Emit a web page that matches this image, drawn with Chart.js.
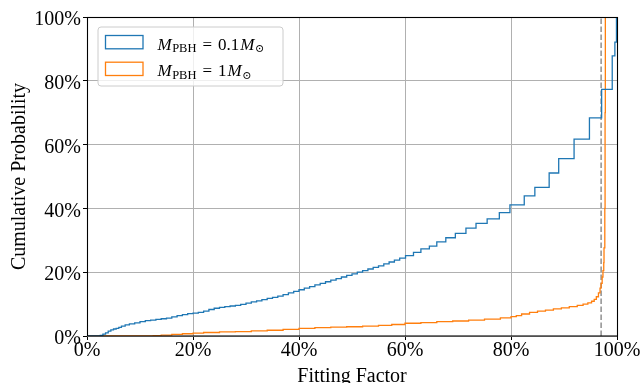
<!DOCTYPE html>
<html>
<head>
<meta charset="utf-8">
<script src="https://cdn.jsdelivr.net/npm/chart.js@4.4.0/dist/chart.umd.min.js"></script>
<style>
  html, body { margin: 0; padding: 0; background: #fff; }
  #wrap { width: 642px; height: 383px; }
</style>
</head>
<body>
<div id="wrap"><canvas id="cdf"></canvas></div>
<script>
// fitting factor (%) where the cumulative curve steps, and the level after the step
const blueX = [0, 2.5, 3.0, 3.5, 4.0, 4.5, 5.0, 5.5, 6.0, 6.5, 7.2, 8.0, 9.0, 10.0, 11.0, 12.0, 13.0, 14.0, 15.0, 16.0,
  17.0, 18.0, 19.0, 20.0, 21.0, 22.0, 23.0, 24.0, 25.0, 26.0, 27.0, 28.0, 29.0, 30.0, 31.0, 32.0, 33.0, 34.0, 35.0, 36.0,
  37.0, 38.0, 39.0, 40.0, 41.0, 42.0, 43.0, 44.0, 45.0, 46.0, 47.0, 48.0, 49.0, 50.0, 51.0, 52.0, 53.0, 54.0, 55.0,
  56.0, 57.0, 58.0, 59.0, 60.1, 61.6, 63.0, 64.6, 66.0, 67.7, 69.5, 71.5, 73.4,
  75.5, 77.8, 79.8, 82.5, 84.5, 87.2, 89.0, 91.9, 94.8, 97.1, 99.1, 99.6, 99.9];
const blueY = [0, 0.2, 0.6, 1.0, 1.5, 1.9, 2.2, 2.4, 2.7, 3.1, 3.5, 3.8, 4.1, 4.5, 4.8, 5.0, 5.2, 5.4, 5.6, 6.0,
  6.4, 6.7, 7.0, 7.2, 7.4, 7.8, 8.3, 8.7, 9.0, 9.2, 9.4, 9.6, 9.9, 10.3, 10.7, 11.0, 11.4, 11.8, 12.1, 12.5,
  13.0, 13.5, 14.0, 14.5, 15.0, 15.5, 16.0, 16.5, 17.0, 17.5, 18.0, 18.5, 19.0, 19.5, 20.0, 20.5, 21.0, 21.5, 22.0,
  22.6, 23.2, 23.8, 24.4, 25.2, 26.2, 27.3, 28.2, 29.5, 30.8, 32.2, 33.8, 35.3,
  36.7, 38.7, 41.1, 43.9, 46.6, 51.1, 55.6, 61.7, 68.4, 77.3, 87.8, 92.1, 100];

const orangeX = [0, 12.5, 14.0, 16.0, 18.0, 20.0, 22.0, 25.0, 28.0, 31.0, 34.0, 37.0, 40.0, 43.0, 46.0, 49.0, 52.0, 55.0,
  57.5, 60.0, 63.0, 66.0, 69.0, 72.0, 75.0, 78.0, 80.0, 81.0, 82.0, 83.5, 85.0, 86.5, 88.0, 89.5, 91.0, 92.5, 93.6,
  94.5, 95.2, 95.7, 96.1, 96.5, 96.8, 97.0, 97.2, 97.35, 97.5, 97.55, 97.7, 97.75, 97.8];
const orangeY = [0, 0.1, 0.3, 0.5, 0.7, 0.9, 1.1, 1.3, 1.4, 1.6, 1.8, 2.1, 2.4, 2.6, 2.8, 2.9, 3.1, 3.3,
  3.6, 4.0, 4.2, 4.5, 4.7, 5.0, 5.3, 5.7, 6.1, 6.4, 6.9, 7.4, 7.8, 8.1, 8.5, 8.8, 9.2, 9.6, 10.0,
  10.4, 10.9, 11.5, 12.3, 13.5, 15.0, 16.5, 18.5, 20.5, 23.0, 27.6, 40, 70, 100];

const thresholdX = [97.0, 97.0];
const thresholdY = [0, 100];

const tickValues = [0, 20, 40, 60, 80, 100];

const toPoints = (xs, ys) => xs.map((x, i) => ({ x: x, y: ys[i] }));

const SERIF = '"Liberation Serif", "DejaVu Serif", serif';

// matplotlib-ish legend with subscripts, drawn on top
const mathLegend = {
  id: 'mathLegend',
  afterDraw(chart) {
    const ctx = chart.ctx;
    const a = chart.chartArea;
    const bx = a.left + 11, by = a.top + 10, bw = 185, bh = 59;
    ctx.save();
    ctx.beginPath();
    ctx.roundRect(bx, by, bw, bh, 3);
    ctx.fillStyle = 'rgba(255,255,255,0.8)';
    ctx.fill();
    ctx.strokeStyle = '#cccccc';
    ctx.lineWidth = 1;
    ctx.stroke();

    const rows = [
      { color: '#1f77b4', num: '0.1' },
      { color: '#ff7f0e', num: '1' }
    ];
    rows.forEach((r, i) => {
      const base = by + 22.5 + i * 26.7;
      ctx.strokeStyle = r.color;
      ctx.lineWidth = 1.3;
      ctx.strokeRect(bx + 7.5, base - 14, 37.5, 13.3);

      ctx.fillStyle = '#000';
      ctx.textBaseline = 'alphabetic';
      let x = bx + 59.5;
      ctx.font = 'italic 17px ' + SERIF;
      ctx.fillText('M', x, base);
      x += ctx.measureText('M').width + 0.5;
      ctx.font = '12.5px ' + SERIF;
      ctx.fillText('PBH', x, base + 2.5);
      x += ctx.measureText('PBH').width + 6;
      ctx.font = '17px ' + SERIF;
      ctx.fillText('=', x, base);
      x += ctx.measureText('=').width + 6;
      ctx.fillText(r.num, x, base);
      x += ctx.measureText(r.num).width + 1;
      ctx.font = 'italic 17px ' + SERIF;
      ctx.fillText('M', x, base);
      x += ctx.measureText('M').width + 0.5;
      ctx.font = '11px "DejaVu Serif", "DejaVu Sans", serif';
      ctx.fillText('\u2299', x, base + 2.5);
    });
    ctx.restore();
  }
};

// black spines around the plotting area
const frame = {
  id: 'frame',
  afterDatasetsDraw(chart) {
    const ctx = chart.ctx;
    const a = chart.chartArea;
    ctx.save();
    ctx.strokeStyle = '#000';
    ctx.lineWidth = 1.1;
    ctx.strokeRect(Math.round(a.left) + 0.5, Math.round(a.top) + 0.5,
      Math.round(a.right - a.left), Math.round(a.bottom - a.top) - 0.5);
    ctx.restore();
  }
};

const ctx = document.getElementById('cdf').getContext('2d');
new Chart(ctx, {
  type: 'line',
  data: {
    datasets: [
      {
        label: 'M_PBH = 0.1 M_sun',
        data: toPoints(blueX, blueY),
        borderColor: '#1f77b4',
        borderWidth: 1.3,
        stepped: true,
        pointRadius: 0,
        fill: false
      },
      {
        label: 'M_PBH = 1 M_sun',
        data: toPoints(orangeX, orangeY),
        borderColor: '#ff7f0e',
        borderWidth: 1.3,
        stepped: true,
        pointRadius: 0,
        fill: false
      },
      {
        label: 'threshold',
        data: toPoints(thresholdX, thresholdY),
        borderColor: '#7f7f7f',
        borderWidth: 1.3,
        borderDash: [5.5, 2.5],
        pointRadius: 0,
        fill: false
      }
    ]
  },
  options: {
    responsive: true,
    maintainAspectRatio: false,
    animation: false,
    events: [],
    layout: { padding: { top: 17, right: 25, left: 0, bottom: 0 } },
    plugins: {
      legend: { display: false },
      tooltip: { enabled: false }
    },
    scales: {
      x: {
        type: 'linear',
        min: 0,
        max: 100,
        afterFit: s => { s.height = 47; },
        afterBuildTicks: s => { s.ticks = tickValues.map(v => ({ value: v })); },
        border: { display: false },
        grid: { color: '#b0b0b0', lineWidth: 1, tickLength: 4, tickColor: '#000' },
        ticks: {
          color: '#000',
          padding: 1,
          maxRotation: 0,
          font: { family: SERIF, size: 20, lineHeight: 1 },
          callback: v => v + '%'
        },
        title: {
          display: true,
          text: 'Fitting Factor',
          color: '#000',
          font: { family: SERIF, size: 20, lineHeight: 1 },
          padding: { top: 0, bottom: -4 }
        }
      },
      y: {
        min: 0,
        max: 100,
        afterFit: s => { s.width = 87; },
        afterBuildTicks: s => { s.ticks = tickValues.map(v => ({ value: v })); },
        border: { display: false },
        grid: { color: '#b0b0b0', lineWidth: 1, tickLength: 4, tickColor: '#000' },
        ticks: {
          color: '#000',
          padding: 2,
          labelOffset: 3,
          font: { family: SERIF, size: 20, lineHeight: 1 },
          callback: v => v + '%'
        },
        title: {
          display: true,
          text: 'Cumulative Probability',
          color: '#000',
          font: { family: SERIF, size: 20, lineHeight: 1 },
          padding: { top: 10, bottom: 0 }
        }
      }
    }
  },
  plugins: [frame, mathLegend]
});
</script>
</body>
</html>
